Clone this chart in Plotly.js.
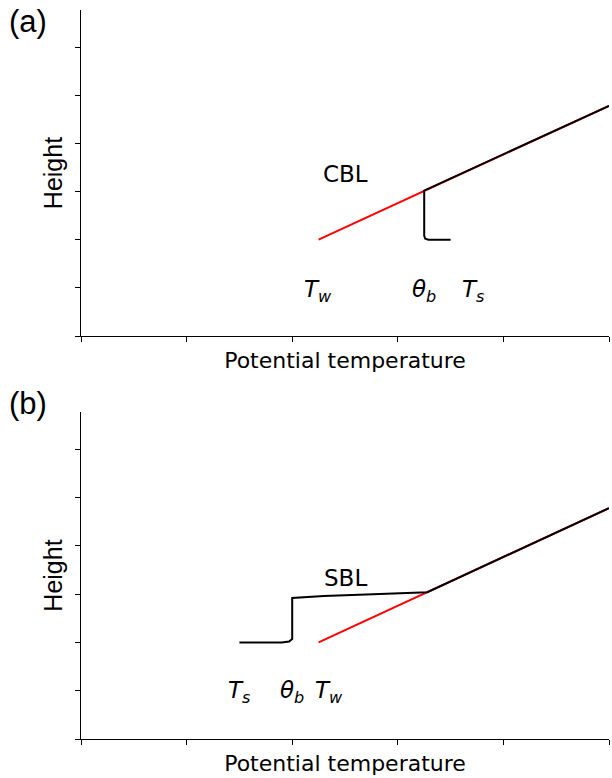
<!DOCTYPE html>
<html>
<head>
<meta charset="utf-8">
<script src="https://cdn.plot.ly/plotly-3.0.1.min.js"></script>
<style>html,body{margin:0;padding:0;background:#fff;}#chart{width:612px;height:778px;}</style>
</head>
<body>
<div id="chart"></div>
<script>
// Panel (a): convective boundary layer
const redAX = [2.25, 5.0];
const redAY = [2.0, 4.78];
const cblX = [5.0, 3.25, 3.25, 3.26, 3.29, 3.5];
const cblY = [4.78, 3.02, 2.08, 2.02, 2.0, 2.0];
// Panel (b): stable boundary layer
const redBX = [2.25, 5.0];
const redBY = [2.0, 4.78];
const sblX = [1.5, 1.9, 1.97, 2.0, 2.0, 2.3, 2.7, 3.0, 3.28, 5.0];
const sblY = [2.0, 2.0, 2.02, 2.07, 2.92, 2.96, 2.99, 3.01, 3.04, 4.78];

const xTicks = [0, 1, 2, 3, 4, 5];
const yTicks = [0, 1, 2, 3, 4, 5, 6];

const labelsA = [
  {t: '<i>T</i><sub><i>w</i></sub>', x: 2.24, y: 0.93},
  {t: '<i>θ</i><sub><i>b</i></sub>', x: 3.25, y: 0.93},
  {t: '<i>T</i><sub><i>s</i></sub>', x: 3.72, y: 0.93}
];
const labelsB = [
  {t: '<i>T</i><sub><i>s</i></sub>', x: 1.5, y: 0.97},
  {t: '<i>θ</i><sub><i>b</i></sub>', x: 2.0, y: 0.97},
  {t: '<i>T</i><sub><i>w</i></sub>', x: 2.35, y: 0.97}
];

const traces = [
  {x: redAX, y: redAY, mode: 'lines', line: {color: '#ff0000', width: 2}, xaxis: 'x', yaxis: 'y', hoverinfo: 'skip'},
  {x: cblX, y: cblY, mode: 'lines', line: {color: '#000000', width: 2}, xaxis: 'x', yaxis: 'y', hoverinfo: 'skip'},
  {x: redBX, y: redBY, mode: 'lines', line: {color: '#ff0000', width: 2}, xaxis: 'x2', yaxis: 'y2', hoverinfo: 'skip'},
  {x: sblX, y: sblY, mode: 'lines', line: {color: '#000000', width: 2}, xaxis: 'x2', yaxis: 'y2', hoverinfo: 'skip'}
];

const W = 612, H = 778;
function xAxis(anchor, title) {
  return {
    domain: [81 / W, 609 / W], anchor: anchor, range: [0, 5],
    showline: true, linecolor: '#000', linewidth: 1,
    ticks: 'outside', ticklen: 5, tickwidth: 1, tickcolor: '#000',
    tickvals: xTicks, showticklabels: false, showgrid: false, zeroline: false,
    title: {text: title, font: {family: 'DejaVu Sans', size: 22, color: '#000'}, standoff: 11}
  };
}
function yAxis(anchor, top, bottom) {
  return {
    domain: [(H - bottom) / H, (H - top) / H], anchor: anchor, range: [0, 6.77],
    showline: true, linecolor: '#000', linewidth: 1,
    ticks: 'outside', ticklen: 5, tickwidth: 1, tickcolor: '#000',
    tickvals: yTicks, showticklabels: false, showgrid: false, zeroline: false,
    title: {text: 'Height', font: {family: 'Liberation Sans', size: 25, color: '#000'}, standoff: 5}
  };
}

const ann = [];
function addLabels(list, xr, yr) {
  list.forEach(l => ann.push({text: l.t, x: l.x, y: l.y, xref: xr, yref: yr, showarrow: false,
    xanchor: 'center', yanchor: 'middle',
    font: {family: 'DejaVu Sans', size: 23, color: '#000'}}));
}
addLabels(labelsA, 'x', 'y');
addLabels(labelsB, 'x2', 'y2');
ann.push({text: 'CBL', x: 2.5, y: 3.36, xref: 'x', yref: 'y', showarrow: false,
  xanchor: 'center', yanchor: 'middle',
  font: {family: 'DejaVu Sans', size: 23, color: '#000'}});
ann.push({text: 'SBL', x: 2.5, y: 3.34, xref: 'x2', yref: 'y2', showarrow: false,
  xanchor: 'center', yanchor: 'middle',
  font: {family: 'DejaVu Sans', size: 23, color: '#000'}});
ann.push({text: '(a)', x: 28 / W, y: (H - 22) / H, xref: 'paper', yref: 'paper', showarrow: false,
  xanchor: 'center', yanchor: 'middle',
  font: {family: 'Liberation Sans', size: 31, color: '#000'}});
ann.push({text: '(b)', x: 28 / W, y: (H - 403) / H, xref: 'paper', yref: 'paper', showarrow: false,
  xanchor: 'center', yanchor: 'middle',
  font: {family: 'Liberation Sans', size: 31, color: '#000'}});

const layout = {
  width: W, height: H,
  margin: {l: 0, r: 0, t: 0, b: 0},
  paper_bgcolor: '#fff', plot_bgcolor: '#fff',
  showlegend: false,
  xaxis: xAxis('y', 'Potential temperature'),
  yaxis: yAxis('x', 10, 336),
  xaxis2: xAxis('y2', 'Potential temperature'),
  yaxis2: yAxis('x2', 412, 739),
  annotations: ann
};

Plotly.newPlot('chart', traces, layout, {displayModeBar: false, staticPlot: true});
</script>
</body>
</html>
